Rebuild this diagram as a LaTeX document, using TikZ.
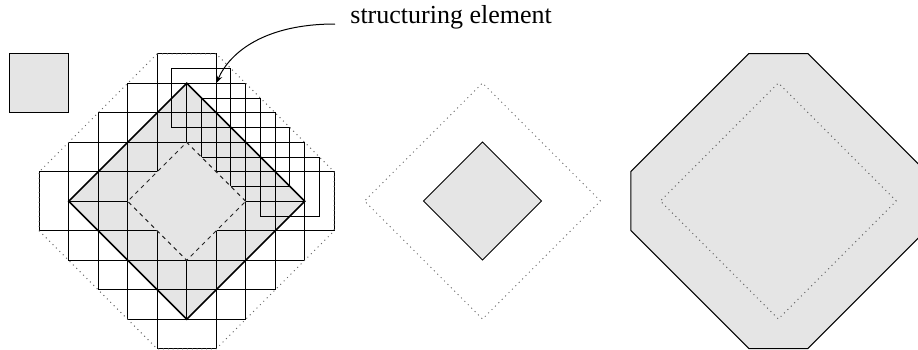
\documentclass[tikz,border=0pt]{standalone}
\usepackage{fontspec}
\setmainfont{Liberation Serif}
\usetikzlibrary{arrows.meta}
\definecolor{shade}{RGB}{229,229,229}
\begin{document}
\begin{tikzpicture}[x=0.5pt,y=-0.5pt,
  shapefill/.style={fill=shade},
  sqline/.style={draw=black,line width=0.5pt},
  outline/.style={draw=black,line width=0.5pt,line join=miter},
  thickoutline/.style={draw=black,line width=0.8pt,line join=miter},
  dotline/.style={draw=black!60,line width=0.5pt,dash pattern=on 0.5pt off 1.9pt},
  dashline/.style={draw=black!85,line width=0.5pt,dash pattern=on 2pt off 2pt},
  unitgrid/.style={x=14.75pt,y=14.75pt}]
\useasboundingbox (0,0) rectangle (918,349);
\clip (0,0) rectangle (918,349);

% ---------- left figure: dilation by sliding the structuring element ----------
\begin{scope}[shift={(186.7,201.3)},unitgrid]
  % structuring element
  \draw[shapefill,outline] (-6,5) rectangle (-4,3);
  % the set
  \fill[shapefill] (4,0) -- (0,4) -- (-4,0) -- (0,-4) -- cycle;
  % translated structuring elements
  \foreach \i/\j in {0/4,1/3,2/2,3/1,4/0,3/-1,2/-2,1/-3,0/-4,-1/-3,-2/-2,-3/-1,-4/0,-3/1,-2/2,-1/3,
                     0.5/3.5,1.5/2.5,2.5/1.5,3.5/0.5}
    \draw[sqline] (\i-1,\j-1) rectangle (\i+1,\j+1);
  % inner dashed diamond
  \fill[shapefill] (2,0) -- (0,2) -- (-2,0) -- (0,-2) -- cycle;
  \draw[dashline] (2,0) -- (0,2) -- (-2,0) -- (0,-2) -- cycle;
  % set border
  \draw[thickoutline] (4,0) -- (0,4) -- (-4,0) -- (0,-4) -- cycle;
  % dilated outline
  \draw[dotline] (-1,5) -- (1,5) -- (5,1) -- (5,-1) -- (1,-5) -- (-1,-5) -- (-5,-1) -- (-5,1) -- cycle;
  \coordinate (setip) at (1,4);
\end{scope}

% ---------- label and arrow ----------
\node[anchor=base west,inner sep=0pt,font=\fontsize{13}{15}\selectfont] (lbl) at (350,23.3) {structuring element};
\coordinate (arrstart) at (335,24);
\draw[line width=0.5pt,-{Stealth[length=4pt,width=3pt]}] (arrstart) .. controls (265,24) and (230,52) .. (setip);

% ---------- middle figure: erosion ----------
\begin{scope}[shift={(482.5,201)},unitgrid]
  \draw[dotline] (4,0) -- (0,4) -- (-4,0) -- (0,-4) -- cycle;
  \draw[shapefill,outline] (2,0) -- (0,2) -- (-2,0) -- (0,-2) -- cycle;
\end{scope}

% ---------- right figure: dilation ----------
\begin{scope}[shift={(778.3,201)},unitgrid]
  \draw[shapefill,outline] (-1,5) -- (1,5) -- (5,1) -- (5,-1) -- (1,-5) -- (-1,-5) -- (-5,-1) -- (-5,1) -- cycle;
  \draw[dotline] (4,0) -- (0,4) -- (-4,0) -- (0,-4) -- cycle;
\end{scope}
\end{tikzpicture}
\end{document}
